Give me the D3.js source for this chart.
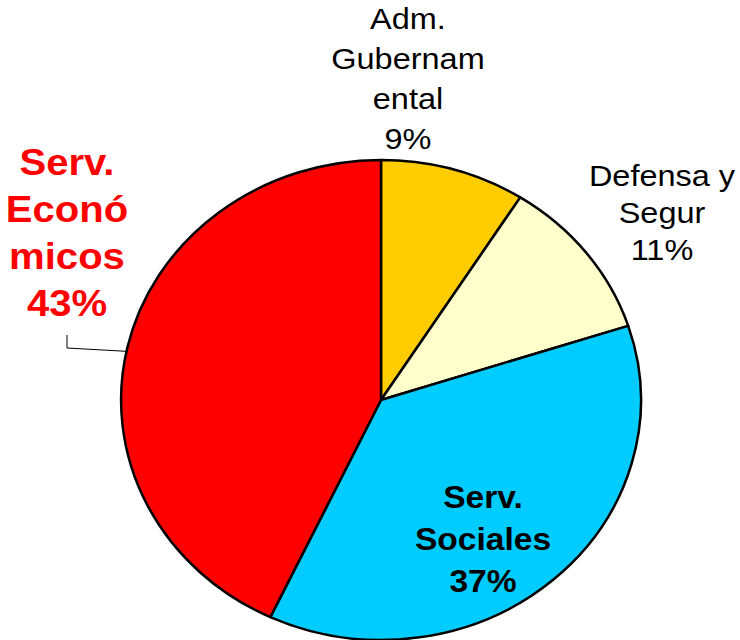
<!DOCTYPE html>
<html>
<head>
<meta charset="utf-8">
<script src="https://cdn.jsdelivr.net/npm/d3@7"></script>
<style>
  body { margin: 0; background: #fff; }
  svg { display: block; }
</style>
</head>
<body>
<div id="chart"></div>
<script>
// data
var categories = ["Adm. Gubernamental", "Defensa y Segur", "Serv. Sociales", "Serv. Económicos"];
var values = [9, 11, 37, 43];
var labelLines = [
    ["Adm.", "Gubernam", "ental", "9%"],
    ["Defensa y", "Segur", "11%"],
    ["Serv.", "Sociales", "37%"],
    ["Serv.", "Econó", "micos", "43%"]
];
var colors = ["#FFCC00", "#FFFFCC", "#00CCFF", "#FF0000"];

// layout (page coords for label centre x and first baseline)
var labelStyle = [
    {x: 408, y: 29, dy: 40, size: 30, weight: "normal", fill: "#000"},
    {x: 662, y: 186, dy: 37, size: 30, weight: "normal", fill: "#000"},
    {x: 483, y: 508, dy: 42, size: 31, weight: "bold", fill: "#000"},
    {x: 67, y: 175, dy: 47, size: 37, weight: "bold", fill: "#FF0000"}
];

var width = 740, height = 640;
var cx = 381, cy = 400;
var sx = 1.083; // the original is stretched sideways
var radius = 240;

var svg = d3.select("#chart")
  .append("svg")
    .attr("width", width)
    .attr("height", height);

var pie = d3.pie().sort(null).value(function (d) { return d; });
var arc = d3.arc().innerRadius(0).outerRadius(radius);

var g = svg.append("g")
    .attr("transform", "translate(" + cx + "," + cy + ") scale(" + sx + ",1)");

g.selectAll("path.slice")
  .data(pie(values))
  .enter()
  .append("path")
    .attr("class", "slice")
    .attr("d", arc)
    .style("fill", function (d, i) { return colors[i]; })
    .style("stroke", "#000")
    .style("stroke-width", "2.5px")
    .style("stroke-linejoin", "round")
    .attr("vector-effect", "non-scaling-stroke");

// leader line for the red label
var leadAngle = 1.565 * Math.PI; // point on the rim, clockwise from top
var ex = cx + sx * radius * Math.sin(leadAngle);
var ey = cy - radius * Math.cos(leadAngle);
svg.append("polyline")
    .attr("points", [[67, 335], [67, 348], [ex, ey]].map(function (p) { return p.join(","); }).join(" "))
    .style("fill", "none")
    .style("stroke", "#000")
    .style("stroke-width", "1px");

// labels
labelLines.forEach(function (lines, i) {
    var st = labelStyle[i];
    var t = svg.append("g")
        .attr("transform", "translate(" + st.x + "," + st.y + ") scale(" + sx + ",1)");
    t.selectAll("text")
      .data(lines)
      .enter()
      .append("text")
        .attr("x", 0)
        .attr("y", function (d, j) { return j * st.dy; })
        .attr("text-anchor", "middle")
        .style("font-family", "'Liberation Sans', Arial, Helvetica, sans-serif")
        .style("font-size", st.size + "px")
        .style("font-weight", st.weight)
        .style("fill", st.fill)
        .text(function (d) { return d; });
});
</script>
</body>
</html>
